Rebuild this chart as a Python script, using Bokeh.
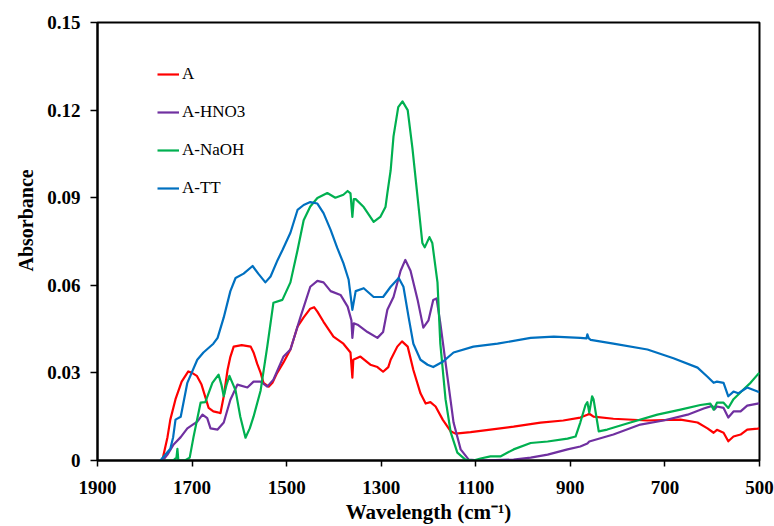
from bokeh.plotting import figure
from bokeh.models import Range1d, FixedTicker, CustomJSTickFormatter, Legend, LegendItem, Title
from bokeh.embed import file_html
from bokeh.resources import INLINE

# ---- data ----
a_wn = [1763, 1752, 1746, 1735, 1722, 1708, 1700, 1690, 1680, 1665, 1655, 1646, 1640, 1633, 1625, 1619, 1612, 1595,
        1576, 1570, 1562, 1555, 1549, 1538, 1530, 1520, 1507, 1492, 1477, 1464, 1450, 1442, 1435, 1422, 1401, 1380,
        1365, 1361, 1359, 1344, 1323, 1308, 1296, 1285, 1280, 1266, 1256, 1244, 1232, 1217, 1206, 1196, 1185, 1170,
        1153, 1143, 1111, 1069, 1020, 963, 915, 879, 864, 860, 851, 809, 737, 667, 631, 610, 597, 590, 576, 566,
        555, 540, 526, 504, 500]
a_abs = [0, 0.008, 0.014, 0.021, 0.027, 0.0305, 0.030, 0.029, 0.026, 0.018, 0.0168, 0.0165, 0.0162, 0.022, 0.031,
         0.0355, 0.039, 0.0395, 0.039, 0.037, 0.033, 0.030, 0.0266, 0.0253, 0.0266, 0.030, 0.0335, 0.038, 0.0458,
         0.049, 0.052, 0.0525, 0.051, 0.0475, 0.0424, 0.040, 0.037, 0.0284, 0.0345, 0.0356, 0.0328, 0.032, 0.0304,
         0.032, 0.0345, 0.039, 0.0408, 0.039, 0.031, 0.023, 0.0195, 0.020, 0.0185, 0.014, 0.010, 0.0092, 0.0097,
         0.0106, 0.0116, 0.013, 0.0137, 0.0147, 0.0157, 0.016, 0.015, 0.0143, 0.0137, 0.014, 0.013, 0.011, 0.0095,
         0.0105, 0.0095, 0.0066, 0.0082, 0.0089, 0.0106, 0.0109, 0.011]

hno3_wn = [1762, 1752, 1739, 1724, 1710, 1689, 1678, 1668, 1661, 1646, 1633, 1619, 1604, 1583, 1570, 1555, 1541,
           1528, 1507, 1492, 1471, 1450, 1435, 1422, 1407, 1386, 1371, 1363, 1361, 1358, 1350, 1329, 1308, 1296,
           1287, 1274, 1259, 1249, 1238, 1223, 1211, 1200, 1190, 1183, 1175, 1160, 1147, 1132, 1115, 1090, 1020,
           984, 948, 906, 879, 864, 860, 809, 752, 703, 652, 618, 600, 595, 590, 576, 566, 555, 540, 526, 504, 500]
hno3_abs = [0, 0.002, 0.0055, 0.008, 0.011, 0.0133, 0.0157, 0.0145, 0.011, 0.0106, 0.013, 0.0208, 0.026, 0.025,
            0.027, 0.027, 0.0253, 0.0277, 0.0355, 0.038, 0.049, 0.0595, 0.0615, 0.061, 0.058, 0.0567, 0.0527, 0.048,
            0.042, 0.047, 0.0465, 0.044, 0.042, 0.044, 0.0516, 0.056, 0.065, 0.0687, 0.065, 0.055, 0.0455, 0.048,
            0.055, 0.0555, 0.047, 0.0287, 0.013, 0.0038, 0.0003, 0, 0.0003, 0.001, 0.002, 0.0038, 0.0048, 0.0058,
            0.0065, 0.0089, 0.0123, 0.0137, 0.0157, 0.0178, 0.0187, 0.0175, 0.0185, 0.018, 0.0147, 0.0168, 0.0168,
            0.0188, 0.0195, 0.0196]

naoh_wn = [1760, 1740, 1733, 1731, 1729, 1715, 1705, 1697, 1682, 1672, 1657, 1644, 1638, 1633, 1627, 1621, 1608,
           1598, 1587, 1578, 1570, 1555, 1541, 1528, 1509, 1492, 1477, 1464, 1450, 1435, 1414, 1397, 1380, 1371,
           1365, 1361, 1358, 1354, 1337, 1316, 1302, 1291, 1287, 1280, 1274, 1264, 1255, 1244, 1234, 1223, 1213,
           1208, 1198, 1192, 1181, 1175, 1164, 1153, 1139, 1122, 1105, 1090, 1069, 1048, 1020, 984, 948, 906, 889,
           879, 868, 864, 860, 854, 851, 840, 822, 773, 716, 667, 625, 604, 597, 590, 576, 566, 555, 534, 519, 504,
           500]
naoh_abs = [0, 0, 0.001, 0.004, 0, 0, 0.001, 0.008, 0.0198, 0.020, 0.0266, 0.0294, 0.026, 0.022, 0.026, 0.029,
            0.024, 0.015, 0.0078, 0.011, 0.015, 0.024, 0.039, 0.054, 0.055, 0.061, 0.072, 0.0823, 0.087, 0.0899,
            0.0916, 0.090, 0.091, 0.0923, 0.0915, 0.0834, 0.0895, 0.0895, 0.0868, 0.0817, 0.0834, 0.0868, 0.0916,
            0.0994, 0.111, 0.121, 0.123, 0.120, 0.107, 0.090, 0.0745, 0.073, 0.0765, 0.0745, 0.061, 0.040, 0.021,
            0.0096, 0.0027, 0.0003, 0, 0.0007, 0.0014, 0.0014, 0.0038, 0.006, 0.0065, 0.0075, 0.0082, 0.013, 0.019,
            0.020, 0.0164, 0.022, 0.021, 0.010, 0.0106, 0.013, 0.0157, 0.0174, 0.019, 0.0195, 0.0174, 0.0198, 0.0198,
            0.018, 0.021, 0.0243, 0.0266, 0.0294, 0.030]

tt_wn = [1767, 1746, 1740, 1735, 1724, 1710, 1689, 1676, 1655, 1646, 1633, 1619, 1608, 1591, 1572, 1560, 1545, 1534,
         1519, 1509, 1492, 1477, 1464, 1450, 1435, 1422, 1407, 1393, 1380, 1369, 1361, 1354, 1337, 1316, 1296, 1280,
         1263, 1253, 1242, 1232, 1217, 1202, 1190, 1170, 1147, 1105, 1054, 984, 935, 879, 866, 864, 861, 857, 809,
         737, 682, 631, 610, 597, 590, 576, 566, 555, 545, 526, 504, 500]
tt_abs = [0, 0.004, 0.008, 0.014, 0.015, 0.0266, 0.0345, 0.037, 0.040, 0.042, 0.049, 0.058, 0.0625, 0.064, 0.0666,
          0.064, 0.061, 0.063, 0.0687, 0.072, 0.078, 0.0858, 0.0875, 0.0885, 0.088, 0.0847, 0.079, 0.0728, 0.0676,
          0.062, 0.0516, 0.058, 0.059, 0.056, 0.056, 0.0595, 0.0625, 0.0595, 0.049, 0.040, 0.0345, 0.0328, 0.032,
          0.0338, 0.037, 0.039, 0.040, 0.042, 0.0424, 0.042, 0.0418, 0.0432, 0.0418, 0.0413, 0.040, 0.038, 0.035,
          0.0318, 0.0287, 0.0266, 0.027, 0.0266, 0.022, 0.0236, 0.023, 0.025, 0.0236, 0.0235]

series_names = ["A", "A-HNO3", "A-NaOH", "A-TT"]
series_colors = ["#FF0000", "#7030A0", "#00B050", "#0070C0"]
x_ticks = [1900, 1700, 1500, 1300, 1100, 900, 700, 500]
y_ticks = [0, 0.03, 0.06, 0.09, 0.12, 0.15]
x_title = "Wavelength (cm\u207B\u00B9)"
y_title = "Absorbance"

FONT = "Liberation Serif"

p = figure(width=774, height=526, output_backend="svg", toolbar_location=None,
           x_range=Range1d(1900, 500), y_range=Range1d(0, 0.15),
           min_border_left=97, min_border_right=15, min_border_top=22, min_border_bottom=65,
           background_fill_color="white", border_fill_color="white")
p.grid.visible = False
p.outline_line_color = "black"
p.outline_line_width = 2

renderers = []
for xs, ys, c in zip([a_wn, hno3_wn, naoh_wn, tt_wn], [a_abs, hno3_abs, naoh_abs, tt_abs], series_colors):
    r = p.line(xs, ys, line_color=c, line_width=2.2, line_join="round")
    renderers.append(r)

# axes
for ax in (p.xaxis[0], p.yaxis[0]):
    ax.axis_line_color = "black"
    ax.axis_line_width = 2
    ax.major_tick_line_color = "black"
    ax.major_tick_line_width = 1.5
    ax.major_tick_in = 0
    ax.minor_tick_line_color = None
    ax.major_label_text_font = FONT
    ax.major_label_text_font_style = "bold"
    ax.major_label_text_font_size = "19px"
    ax.major_label_text_color = "black"
    ax.axis_label_text_font = FONT
    ax.axis_label_text_font_style = "bold"
    ax.axis_label_text_color = "black"

p.xaxis.ticker = FixedTicker(ticks=x_ticks)
p.xaxis.major_tick_out = 6
p.xaxis.major_label_standoff = 14
p.xaxis.axis_label = x_title
p.xaxis.axis_label_text_font_size = "21px"
p.xaxis.axis_label_standoff = 3

p.yaxis.ticker = FixedTicker(ticks=y_ticks)
p.yaxis.formatter = CustomJSTickFormatter(code="return tick == 0 ? '0' : tick.toFixed(2);")
p.yaxis.major_tick_out = 7
p.yaxis.major_label_standoff = 10

# y-axis title as a left-side title, placed a little above the frame centre as in the reference
p.add_layout(Title(text=y_title, align="left", offset=189, standoff=15,
                   text_font=FONT, text_font_style="bold", text_font_size="20px",
                   text_color="black"), "left")

legend = Legend(items=[LegendItem(label=n, renderers=[r]) for n, r in zip(series_names, renderers)],
                location=(60, 262), padding=0, margin=0, spacing=18,
                label_height=20, glyph_height=20, glyph_width=22, label_standoff=3,
                label_text_font=FONT, label_text_font_size="17px", label_text_color="black",
                border_line_color=None, background_fill_alpha=0)
p.add_layout(legend)

open("out.html", "w").write(file_html(p, INLINE))
